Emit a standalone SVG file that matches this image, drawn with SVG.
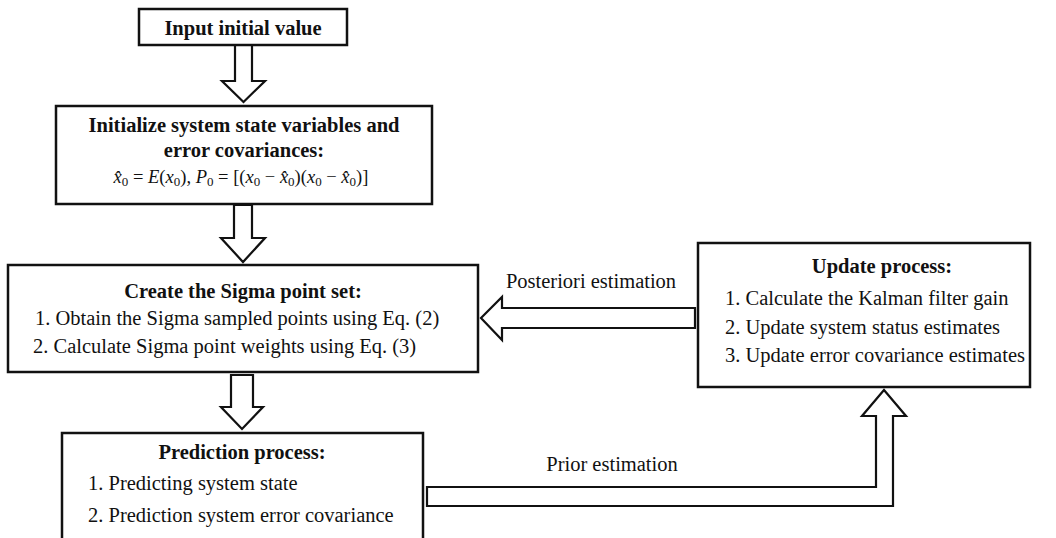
<svg xmlns="http://www.w3.org/2000/svg" width="1056" height="538" viewBox="0 0 1056 538">
<style>
.box{fill:#fff;stroke:#111;stroke-width:2.5}
.arr{fill:#fff;stroke:#111;stroke-width:2.2;stroke-linejoin:miter}
text{font-family:"Liberation Serif","Times New Roman",serif;fill:#111;font-size:20.5px}
.b{font-weight:bold}
.m{font-size:18.5px}
.i{font-style:italic}
.s{font-size:13px}
</style>
<rect width="1056" height="538" fill="#fff"/>
<g id="connectors">
<polygon class="arr" points="235,45 252,45 252,81 265,81 243.5,102 222,81 235,81"/>
<polygon class="arr" points="234,205 252,205 252,238 265,238 243,262 221,238 234,238"/>
<polygon class="arr" points="231,375 253,375 253,407 263,407 242,429 221,407 231,407"/>
<polygon class="arr" points="695,308 695,328 502,328 502,340 481,318 502,297 502,308"/>
<polygon class="arr" points="427,487 876,487 876,416 862,416 884,390 906,416 893,416 893,506 427,506"/>
<text x="591" y="288" text-anchor="middle">Posteriori estimation</text>
<text x="612" y="471" text-anchor="middle">Prior estimation</text>
</g>
<g id="input">
<rect class="box" x="139" y="9" width="208" height="36"/>
<text class="b" x="243" y="35" text-anchor="middle">Input initial value</text>
</g>
<g id="init">
<rect class="box" x="56" y="106" width="376" height="98"/>
<text class="b" x="244" y="132" text-anchor="middle">Initialize system state variables and</text>
<text class="b" x="244" y="157" text-anchor="middle">error covariances:</text>
<text class="m" x="241" y="183" text-anchor="middle"><tspan class="i">x̂</tspan><tspan class="s" dy="3">0</tspan><tspan dy="-3"> = </tspan><tspan class="i">E</tspan>(<tspan class="i">x</tspan><tspan class="s" dy="3">0</tspan><tspan dy="-3">), </tspan><tspan class="i">P</tspan><tspan class="s" dy="3">0</tspan><tspan dy="-3"> = [(</tspan><tspan class="i">x</tspan><tspan class="s" dy="3">0</tspan><tspan dy="-3"> − </tspan><tspan class="i">x̂</tspan><tspan class="s" dy="3">0</tspan><tspan dy="-3">)(</tspan><tspan class="i">x</tspan><tspan class="s" dy="3">0</tspan><tspan dy="-3"> − </tspan><tspan class="i">x̂</tspan><tspan class="s" dy="3">0</tspan><tspan dy="-3">)]</tspan></text>
</g>
<g id="sigma">
<rect class="box" x="8" y="265" width="470" height="107"/>
<text class="b" x="243" y="298" text-anchor="middle">Create the Sigma point set:</text>
<text x="35" y="325">1. Obtain the Sigma sampled points using Eq. (2)</text>
<text x="33" y="353">2. Calculate Sigma point weights using Eq. (3)</text>
</g>
<g id="prediction">
<rect class="box" x="62" y="433" width="361" height="120"/>
<text class="b" x="242" y="459" text-anchor="middle">Prediction process:</text>
<text x="88" y="490">1. Predicting system state</text>
<text x="88" y="522">2. Prediction system error covariance</text>
</g>
<g id="update">
<rect class="box" x="698" y="243" width="332" height="144"/>
<text class="b" x="882" y="273" text-anchor="middle">Update process:</text>
<text x="725" y="305">1. Calculate the Kalman filter gain</text>
<text x="725" y="334">2. Update system status estimates</text>
<text x="725" y="362">3. Update error covariance estimates</text>
</g>
</svg>
